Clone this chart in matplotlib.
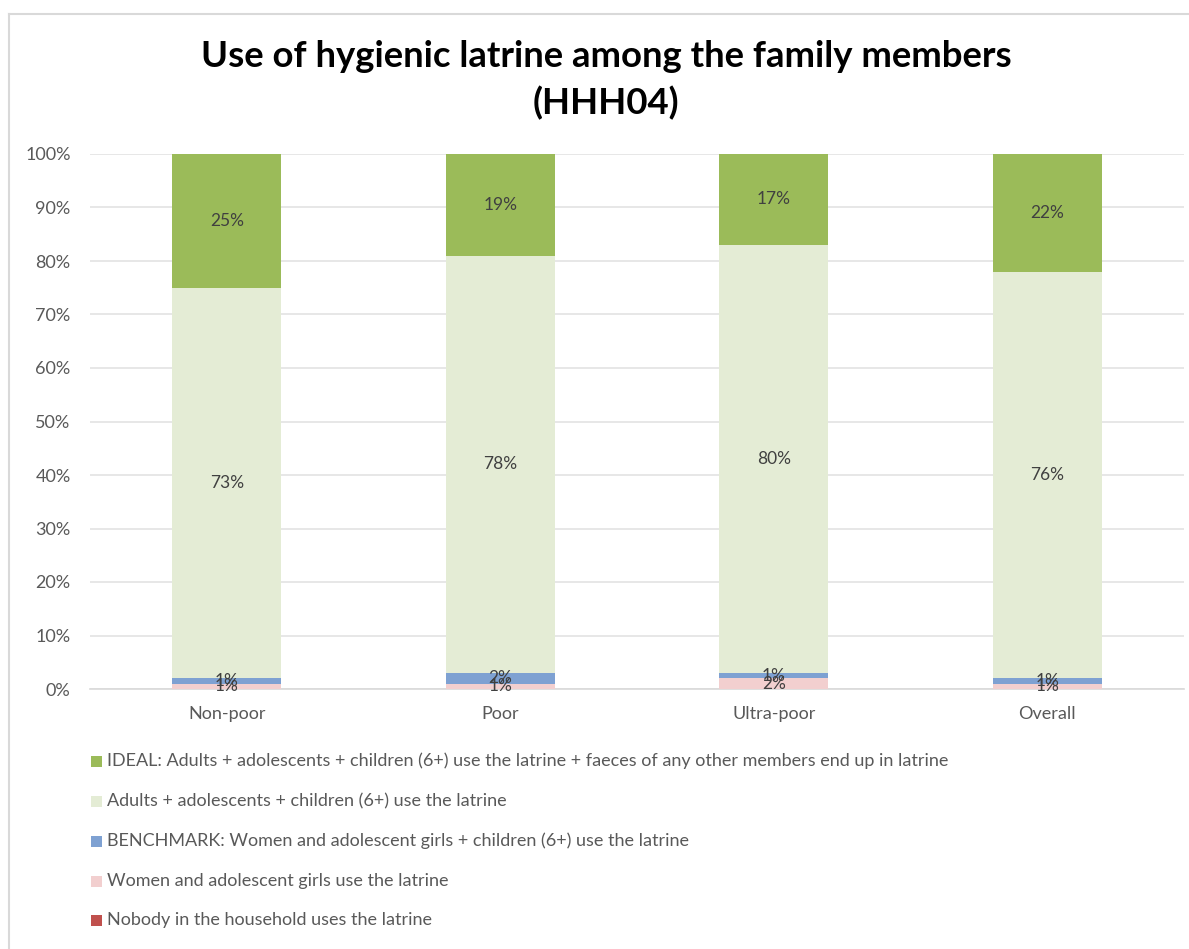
import matplotlib
matplotlib.use("Agg")
import matplotlib.pyplot as plt
from matplotlib.patches import Rectangle
from matplotlib.lines import Line2D
from matplotlib.ticker import MultipleLocator, PercentFormatter

plt.rcParams['font.family'] = ['Lato', 'DejaVu Sans']

categories = ["Non-poor", "Poor", "Ultra-poor", "Overall"]

# Stacked series, bottom to top (percent of households)
nobody = [0, 0, 0, 0]
women_girls = [1, 1, 2, 1]
benchmark = [1, 2, 1, 1]
adults_children = [73, 78, 80, 76]
ideal = [25, 19, 17, 22]

series_names = [
    "Nobody in the household uses the latrine",
    "Women and adolescent girls use the latrine",
    "BENCHMARK: Women and adolescent girls + children (6+) use the latrine",
    "Adults + adolescents + children (6+) use the latrine",
    "IDEAL: Adults + adolescents + children (6+) use the latrine + faeces of any other members end up in latrine",
]
series_values = [nobody, women_girls, benchmark, adults_children, ideal]
series_colors = ["#C0504D", "#F2CFCF", "#7EA1D2", "#E4ECD5", "#9BBB59"]

W, H = 1189, 949
fig = plt.figure(figsize=(W / 100, H / 100), dpi=100)
fig.patch.set_facecolor("white")

# chart frame (top and left edges visible)
fig.add_artist(Line2D([9 / W, 1.0], [1 - 14 / H, 1 - 14 / H], transform=fig.transFigure,
                      color="#D9D9D9", lw=1.5))
fig.add_artist(Line2D([9 / W, 9 / W], [0, 1 - 14 / H], transform=fig.transFigure,
                      color="#D9D9D9", lw=1.5))

ax = fig.add_axes([90 / W, 1 - 689 / H, (1184 - 90) / W, (689 - 154) / H])

x = list(range(len(categories)))
bottoms = [0] * len(categories)
label_color = "#404040"
for name, vals, col in zip(series_names, series_values, series_colors):
    ax.bar(x, vals, width=0.40, bottom=bottoms, color=col, label=name, zorder=3)
    for xi, v, b in zip(x, vals, bottoms):
        if v > 0:
            ax.text(xi, b + v / 2, f"{v}%", ha="center", va="center",
                    fontsize=12.5, color=label_color, zorder=4)
    bottoms = [b + v for b, v in zip(bottoms, vals)]

ax.set_xlim(-0.5, len(categories) - 0.5)
ax.set_ylim(0, 100)
ax.yaxis.set_major_locator(MultipleLocator(10))
ax.yaxis.set_major_formatter(PercentFormatter(decimals=0))
ax.grid(axis="y", color="#E3E3E3", lw=1.2, zorder=0)
ax.set_axisbelow(True)
for s in ["top", "right", "left"]:
    ax.spines[s].set_visible(False)
ax.spines["bottom"].set_color("#D9D9D9")
ax.spines["bottom"].set_linewidth(1.2)
ax.set_xticks(x)
ax.set_xticklabels(categories)
ax.tick_params(axis="both", length=0, labelsize=13, labelcolor="#595959")
ax.tick_params(axis="x", pad=12)
ax.tick_params(axis="y", pad=14)

fig.text(606 / W, 1 - 80 / H, "Use of hygienic latrine among the family members\n(HHH04)",
         ha="center", va="center", fontsize=26.3, fontweight="bold", color="black",
         linespacing=1.45)

# legend, listed top to bottom from the highest stacked series
row_y = [761, 801, 841, 881, 920]
for yy, name, col in zip(row_y, series_names[::-1], series_colors[::-1]):
    fig.add_artist(Rectangle((91 / W, 1 - (yy + 6) / H), 11 / W, 11 / H,
                             transform=fig.transFigure, facecolor=col, edgecolor="none"))
    fig.text(107 / W, 1 - yy / H, name, ha="left", va="center",
             fontsize=13, color="#595959")

fig.savefig("out.png", dpi=100, facecolor="white")
